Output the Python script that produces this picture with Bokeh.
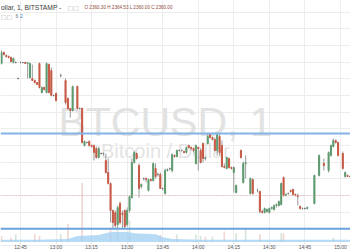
from bokeh.plotting import figure
from bokeh.models import Range1d, FixedTicker, Grid, Label, LabelSet, ColumnDataSource, Span
from bokeh.core.properties import value
from bokeh.embed import file_html
from bokeh.resources import INLINE

# ---------------- data (minutes after 12:45, prices in USD) ----------------
minutes = [-8, -7, -6, -5, -4, -3, -2, -1, 0, 1,
           2, 3, 4, 5, 6, 7, 8, 9, 10, 11,
           12, 13, 14, 15, 17, 19, 20, 21, 22, 24,
           25, 26, 27, 28, 29, 30, 31, 32, 33, 34,
           35, 36, 37, 38, 39, 40, 41, 42, 43, 44,
           45, 46, 47, 48, 49, 50, 51, 52, 53, 54,
           55, 56, 57, 58, 59, 60, 61, 62, 63, 64,
           65, 66, 67, 68, 69, 70, 71, 72, 73, 74,
           75, 76, 77, 78, 79, 80, 81, 82, 83, 84,
           85, 86, 87, 88, 89, 90, 91, 93, 94, 95,
           97, 98, 100, 101, 102, 103, 104, 105, 106, 107,
           108, 109, 110, 111, 112, 113, 114, 115, 116, 117,
           118, 119, 120, 121, 124, 126, 128, 130, 131, 132,
           133, 134, 136, 137, 138, 139]
opens = [2399.6, 2402.9, 2402.0, 2401.7, 2401.4, 2399.9, 2399.9, 2395.1, 2399.9, 2399.9,
         2399.9, 2399.6, 2395.4, 2395.1, 2394.5, 2393.9, 2399.6, 2390.9, 2392.4, 2390.9,
         2399.3, 2397.5, 2390.0, 2390.6, 2396.0, 2394.5, 2389.1, 2386.1, 2385.5, 2392.7,
         2386.1, 2386.1, 2375.0, 2375.9, 2376.2, 2375.0, 2375.0, 2374.1, 2371.4, 2372.6,
         2372.6, 2370.5, 2366.9, 2363.6, 2355.5, 2354.9, 2351.3, 2357.6, 2354.6, 2355.5,
         2351.3, 2355.5, 2359.4, 2369.9, 2372.6, 2369.0, 2362.7, 2365.1, 2365.1, 2361.5,
         2364.8, 2364.5, 2368.1, 2366.3, 2366.3, 2362.1, 2360.6, 2367.5, 2368.1, 2367.5,
         2372.0, 2371.7, 2373.5, 2373.5, 2373.2, 2372.9, 2375.0, 2374.4, 2374.1, 2369.6,
         2374.4, 2373.5, 2375.6, 2371.1, 2375.6, 2378.3, 2377.4, 2376.8, 2373.5, 2377.7,
         2375.0, 2368.7, 2368.1, 2371.1, 2368.4, 2366.9, 2360.9, 2373.5, 2363.9, 2369.6,
         2360.6, 2364.8, 2361.5, 2361.2, 2355.2, 2354.9, 2355.2, 2354.9, 2356.1, 2355.8,
         2357.0, 2357.0, 2357.3, 2365.4, 2360.0, 2360.6, 2361.5, 2361.8, 2360.3, 2360.0,
         2356.7, 2356.1, 2356.1, 2356.1, 2357.6, 2366.0, 2369.6, 2367.5, 2372.0, 2374.7,
         2376.5, 2375.9, 2372.6, 2365.7, 2366.0, 2365.7]
highs = [2403.5, 2403.2, 2402.3, 2402.0, 2401.7, 2401.4, 2400.2, 2395.4, 2400.2, 2399.9,
         2400.2, 2399.9, 2399.9, 2399.3, 2394.8, 2393.9, 2399.9, 2392.7, 2392.7, 2399.9,
         2399.6, 2398.4, 2390.3, 2390.9, 2396.6, 2395.1, 2389.4, 2386.1, 2393.0, 2393.0,
         2386.4, 2386.4, 2376.5, 2376.2, 2376.5, 2375.3, 2375.3, 2374.7, 2374.7, 2372.9,
         2372.9, 2372.6, 2371.1, 2363.9, 2355.8, 2355.5, 2357.0, 2358.2, 2355.5, 2355.8,
         2356.4, 2360.0, 2371.1, 2373.5, 2372.9, 2369.6, 2363.6, 2365.4, 2365.4, 2365.1,
         2365.1, 2369.9, 2369.6, 2366.9, 2366.9, 2362.4, 2368.1, 2368.1, 2368.4, 2372.6,
         2372.3, 2373.8, 2373.8, 2373.8, 2373.5, 2374.7, 2375.3, 2374.7, 2374.4, 2375.3,
         2374.7, 2374.1, 2375.9, 2371.7, 2378.6, 2378.6, 2377.7, 2377.4, 2378.9, 2378.6,
         2376.5, 2369.6, 2371.7, 2371.4, 2368.7, 2368.7, 2363.3, 2373.8, 2370.2, 2372.0,
         2365.4, 2365.1, 2362.1, 2361.5, 2355.8, 2356.4, 2356.1, 2356.4, 2356.7, 2357.3,
         2357.6, 2358.5, 2363.9, 2365.7, 2360.6, 2360.9, 2361.8, 2362.1, 2360.6, 2360.6,
         2357.0, 2356.4, 2356.4, 2356.7, 2366.3, 2372.3, 2371.1, 2373.2, 2375.3, 2377.1,
         2376.8, 2376.2, 2373.2, 2367.2, 2366.3, 2366.0]
lows = [2399.3, 2402.0, 2401.4, 2401.1, 2399.9, 2399.6, 2399.6, 2394.8, 2399.6, 2399.6,
        2399.6, 2395.1, 2395.1, 2394.5, 2393.6, 2393.3, 2392.1, 2390.6, 2391.5, 2390.6,
        2390.6, 2389.7, 2389.7, 2388.2, 2395.4, 2387.3, 2385.8, 2383.4, 2385.2, 2385.8,
        2385.8, 2375.6, 2374.7, 2375.6, 2374.7, 2374.4, 2370.5, 2371.1, 2371.1, 2372.3,
        2372.0, 2366.6, 2363.3, 2351.9, 2350.1, 2350.4, 2350.1, 2351.3, 2350.1, 2350.1,
        2350.7, 2354.9, 2359.1, 2369.6, 2370.8, 2359.4, 2362.1, 2364.5, 2363.9, 2361.2,
        2364.2, 2364.2, 2365.1, 2365.7, 2362.1, 2361.5, 2360.3, 2367.2, 2367.5, 2366.9,
        2371.4, 2371.4, 2373.2, 2373.2, 2372.6, 2372.6, 2374.1, 2373.5, 2372.9, 2369.3,
        2367.5, 2369.6, 2369.9, 2370.5, 2375.3, 2377.1, 2376.5, 2373.2, 2372.0, 2372.0,
        2368.4, 2368.1, 2367.8, 2368.1, 2367.8, 2360.9, 2360.6, 2371.1, 2363.6, 2365.1,
        2360.3, 2360.3, 2360.9, 2354.6, 2354.6, 2354.6, 2354.9, 2354.6, 2355.8, 2355.5,
        2356.4, 2356.7, 2357.0, 2359.7, 2359.7, 2360.3, 2360.9, 2360.0, 2359.7, 2357.0,
        2355.8, 2355.8, 2355.8, 2355.8, 2357.3, 2365.7, 2367.5, 2366.9, 2371.7, 2374.4,
        2375.6, 2371.7, 2367.8, 2365.4, 2365.7, 2365.4]
closes = [2402.9, 2402.3, 2401.7, 2401.4, 2400.2, 2401.1, 2399.9, 2395.1, 2399.9, 2399.9,
          2399.6, 2399.9, 2399.6, 2394.5, 2393.9, 2393.3, 2392.4, 2392.4, 2391.8, 2399.6,
          2390.9, 2390.0, 2390.0, 2388.5, 2396.0, 2387.9, 2386.1, 2385.5, 2392.7, 2386.1,
          2386.1, 2375.9, 2376.2, 2375.9, 2375.0, 2374.7, 2372.9, 2371.4, 2374.1, 2372.6,
          2372.6, 2366.9, 2363.6, 2355.5, 2351.9, 2351.0, 2356.4, 2351.9, 2354.3, 2350.7,
          2355.5, 2359.7, 2369.9, 2372.9, 2371.1, 2362.1, 2363.3, 2365.1, 2364.8, 2364.8,
          2364.5, 2369.6, 2365.7, 2366.3, 2362.1, 2362.1, 2367.5, 2367.8, 2368.1, 2372.3,
          2371.7, 2373.5, 2373.5, 2373.5, 2372.9, 2374.4, 2374.4, 2374.1, 2373.5, 2375.0,
          2374.1, 2369.9, 2371.1, 2371.4, 2377.7, 2377.4, 2376.8, 2373.5, 2378.3, 2372.9,
          2368.7, 2368.4, 2371.4, 2368.4, 2368.1, 2368.4, 2363.0, 2371.4, 2369.6, 2369.9,
          2365.1, 2360.6, 2361.5, 2355.2, 2354.9, 2356.1, 2355.8, 2356.1, 2356.4, 2357.0,
          2357.3, 2358.2, 2363.6, 2360.0, 2360.3, 2360.6, 2361.2, 2360.3, 2360.0, 2359.7,
          2356.1, 2356.1, 2356.1, 2356.4, 2366.0, 2372.0, 2369.0, 2372.9, 2375.0, 2376.5,
          2375.9, 2372.0, 2368.1, 2366.9, 2365.7, 2365.7]

vol_minutes = [-8, -4, -2, 6, 8, 17, 20, 26, 38, 41, 46, 59, 66, 74, 76, 78, 81, 86, 91, 95, 101, 110, 111, 132]
vol_values = [10, 7, 13, 13, 10, 13, 30, 100, 24, 20, 36, 12, 13, 13, 10, 9, 9, 18, 15, 22, 13, 15, 15, 7]
vol_up = [0, 0, 1, 0, 0, 1, 0, 0, 0, 1, 1, 0, 1, 1, 1, 0, 1, 0, 1, 1, 0, 1, 0, 1]

area_minutes = [-8.44, 8, 20, 24, 33, 37, 40, 45, 48, 57, 60, 64, 76, 139.24]
area_values = [4, 4, 5, 10, 12, 16, 17, 17, 15, 13, 8, 5, 4, 4]

tick_minutes = [0, 15, 30, 45, 60, 75, 90, 105, 120, 135]
tick_labels = ["12:45", "13:00", "13:15", "13:30", "13:45", "14:00", "14:15", "14:30", "14:45", "15:00"]
grid_prices = [2345, 2350, 2355, 2360, 2365, 2370, 2375, 2380, 2385, 2390, 2395, 2400, 2405, 2410, 2415]

resistance = 2378.6
support = 2350.0
last_price = 2360.0

symbol_text = "ollar, 1, BITSTAMP -"
ohlc_text = "O 2360.30 H 2364.53 L 2360.00 C 2360.00"
watermark = "BTCUSD, 1"
watermark_sub = "Bitcoin / Dollar"

# ---------------- styling ----------------
UP = "#5e9b70"
DOWN = "#c85a46"
DOJI = "#6f6f6f"
WICK = "#9a9a9a"
FONT = "Liberation Sans"

colors = [UP if c > o else (DOWN if c < o else DOJI) for o, c in zip(opens, closes)]
src = ColumnDataSource(dict(
    t=minutes, h=highs, l=lows,
    top=[max(o, c) for o, c in zip(opens, closes)],
    bot=[min(o, c) for o, c in zip(opens, closes)],
    color=colors))

p = figure(width=350, height=250,
           x_range=Range1d(-8.44, 139.24), y_range=Range1d(2343.5, 2418.5),
           x_axis_location=None, y_axis_location=None,
           output_backend="svg", toolbar_location=None,
           min_border=0, outline_line_color=None,
           background_fill_color="white", border_fill_color="white")
p.grid.visible = False
p.add_layout(Grid(dimension=0, ticker=FixedTicker(ticks=tick_minutes), grid_line_color="#ededed"))
p.add_layout(Grid(dimension=1, ticker=FixedTicker(ticks=grid_prices), grid_line_color="#ededed"))

# watermark
p.add_layout(Label(x=165, y=129, x_units="screen", y_units="screen", text=watermark,
                   text_font=FONT, text_font_size="41px", text_color="#e2e2e2",
                   text_align="center", text_baseline="alphabetic", level="underlay"))
p.add_layout(Label(x=165, y=100, x_units="screen", y_units="screen", text=watermark_sub,
                   text_font=FONT, text_font_size="20px", text_color="#e4e4e4",
                   text_align="center", text_baseline="alphabetic", level="underlay"))

# volume
p.extra_y_ranges = {"vol": Range1d(-14.4, 409.3)}
vcolors = [UP if u else DOWN for u in vol_up]
p.vbar(x=vol_minutes, top=vol_values, bottom=0, width=0.7, fill_color=vcolors,
       line_color=None, fill_alpha=0.25, y_range_name="vol")
p.varea(x=area_minutes, y1=[0] * len(area_minutes), y2=area_values,
        fill_color="#9fcdf2", fill_alpha=0.75, y_range_name="vol")

# candles
p.segment(x0="t", y0="l", x1="t", y1="h", line_color=WICK, line_width=1, source=src)
p.vbar(x="t", width=0.45, top="top", bottom="bot", fill_color="color",
       line_color="color", line_width=1, source=src)

# horizontal lines
p.add_layout(Span(location=last_price, dimension="width", line_color="#e8a9a9",
                  line_width=1, line_dash="1 2"))
p.add_layout(Span(location=resistance, dimension="width", line_color="#84b4e6", line_width=2))
p.add_layout(Span(location=support, dimension="width", line_color="#6aa3dc", line_width=2))

# time labels
tsrc = ColumnDataSource(dict(t=tick_minutes, label=tick_labels))
p.add_layout(LabelSet(x="t", y=3.7, y_units="screen", text="label", source=tsrc,
                      text_font=value(FONT), text_font_size="5px", text_color="#555555",
                      text_align="center", text_baseline="middle"))

# header
p.add_layout(Label(x=0.5, y=243, x_units="screen", y_units="screen", text=symbol_text,
                   text_font=FONT, text_font_size="6.7px", text_color="#3a3a3a",
                   text_baseline="middle"))
p.add_layout(Label(x=67, y=243, x_units="screen", y_units="screen", text="\u25a1\u25a1",
                   text_font="DejaVu Sans", text_font_size="6px", text_color="#b0b0b0",
                   text_baseline="middle"))
p.add_layout(Label(x=84, y=243, x_units="screen", y_units="screen", text=ohlc_text,
                   text_font=FONT, text_font_size="4.6px", text_color="#8e4a3c",
                   text_baseline="middle"))
p.add_layout(Label(x=0.5, y=234.5, x_units="screen", y_units="screen", text="\u25a1\u25a1",
                   text_font="DejaVu Sans", text_font_size="6px", text_color="#b0b0b0",
                   text_baseline="middle"))
p.add_layout(Label(x=15, y=234.5, x_units="screen", y_units="screen", text="6",
                   text_font=FONT, text_font_size="5px", text_color="#777777",
                   text_baseline="middle"))
p.add_layout(Label(x=19.5, y=234.5, x_units="screen", y_units="screen", text="2",
                   text_font=FONT, text_font_size="5px", text_color="#2e7bcf",
                   text_baseline="middle"))

open("out.html", "w").write(file_html(p, INLINE))
